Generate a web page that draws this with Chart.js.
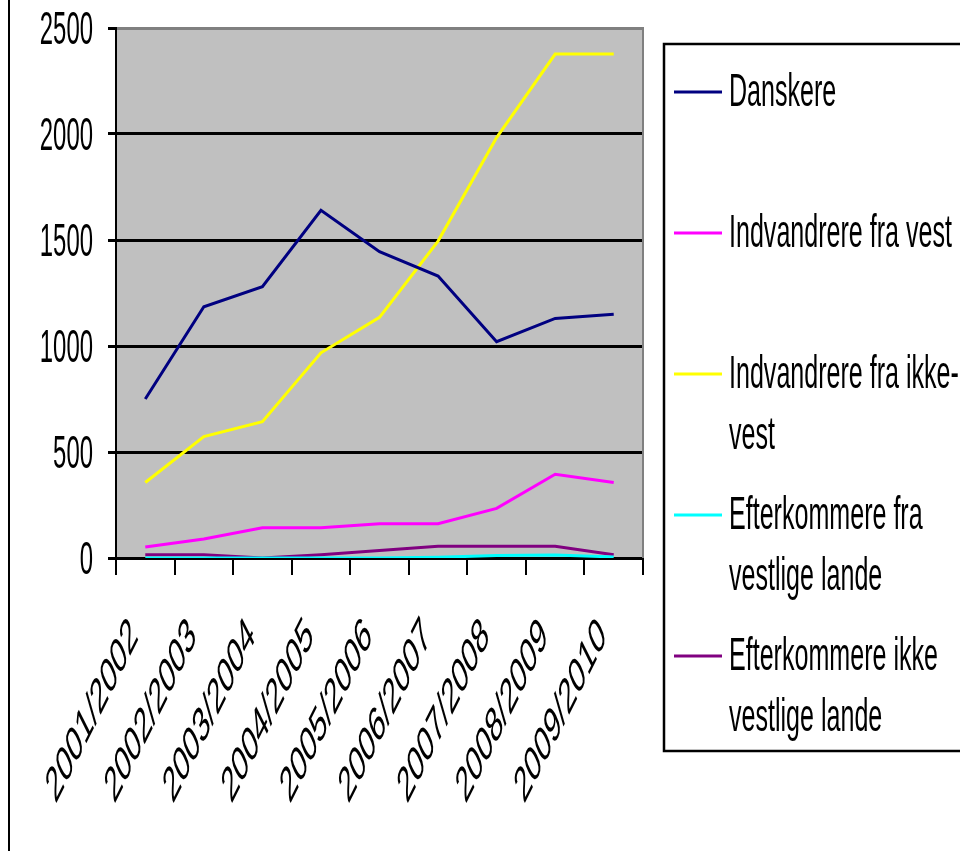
<!DOCTYPE html>
<html>
<head>
<meta charset="utf-8">
<script src="https://cdn.jsdelivr.net/npm/chart.js@4/dist/chart.umd.min.js"></script>
<style>
  html, body { margin: 0; padding: 0; background: #fff; }
  #wrap { width: 960px; height: 851px; }
</style>
</head>
<body>
<div id="wrap"><canvas id="chart" width="960" height="851"></canvas></div>
<script>
// data
var categories = ['2001/2002', '2002/2003', '2003/2004', '2004/2005', '2005/2006',
                  '2006/2007', '2007/2008', '2008/2009', '2009/2010'];
var seriesNames = ['Danskere', 'Indvandrere fra vest', 'Indvandrere fra ikke-vest',
                   'Efterkommere fra vestlige lande', 'Efterkommere ikke vestlige lande'];
var danskere      = [750, 1185, 1280, 1640, 1445, 1330, 1020, 1130, 1150];
var fraVest       = [52, 90, 143, 143, 162, 162, 234, 395, 356];
var fraIkkeVest   = [356, 573, 643, 968, 1135, 1495, 1983, 2377, 2377];
var efterVest     = [0, 0, 0, 0, 0, 3, 12, 14, 5];
var efterIkkeVest = [15, 15, 0, 15, 35, 55, 55, 55, 15];
var yTicks = [0, 500, 1000, 1500, 2000, 2500];

var colors = ['#000080', '#FF00FF', '#FFFF00', '#00FFFF', '#800080'];
var FONT = '46px "Liberation Sans", Arial, sans-serif';
var XFONT = '50px "Liberation Sans", Arial, sans-serif';

// text squeezed sideways like the stretched original
function squeezedText(ctx, text, x, y, sx, align) {
    ctx.save();
    ctx.translate(x, y);
    ctx.scale(sx, 1);
    ctx.textAlign = align || 'left';
    ctx.fillText(text, 0, 0);
    ctx.restore();
}

// break at spaces and after hyphens, like the original legend
function wrapLabel(ctx, text, maxWidth, sx) {
    var tokens = text.match(/[^ ]+?-|[^ \-]+/g);
    var lines = [];
    var cur = '';
    for (var i = 0; i < tokens.length; i++) {
        var tok = tokens[i];
        var sep = (cur === '' || cur.slice(-1) === '-') ? '' : ' ';
        var test = cur + sep + tok;
        if (cur !== '' && ctx.measureText(test).width * sx > maxWidth) {
            lines.push(cur);
            cur = tok;
        } else {
            cur = test;
        }
    }
    if (cur) lines.push(cur);
    return lines;
}

var excelLook = {
    id: 'excelLook',
    beforeDraw: function (chart) {
        var ctx = chart.ctx, a = chart.chartArea;
        ctx.save();
        ctx.fillStyle = '#C0C0C0';
        ctx.fillRect(a.left, a.top, a.right - a.left, a.bottom - a.top);
        ctx.restore();
    },
    afterDraw: function (chart) {
        var ctx = chart.ctx, a = chart.chartArea;
        var xs = chart.scales.x, ys = chart.scales.y;
        ctx.save();

        // right border of plot area
        ctx.strokeStyle = '#808080';
        ctx.lineWidth = 2;
        ctx.beginPath();
        ctx.moveTo(a.right, a.top - 1);
        ctx.lineTo(a.right, a.bottom);
        ctx.stroke();

        ctx.fillStyle = '#000';
        ctx.font = FONT;
        ctx.textBaseline = 'alphabetic';

        // y labels
        yTicks.forEach(function (v) {
            squeezedText(ctx, String(v), 93, ys.getPixelForValue(v) + 16, 0.52, 'right');
        });

        // x labels, rotated
        ctx.font = XFONT;
        categories.forEach(function (c, i) {
            var x = xs.getPixelForValue(i);
            ctx.save();
            ctx.translate(x - 11, 628);
            ctx.scale(0.5, 1);
            ctx.rotate(-Math.PI / 4);
            ctx.textAlign = 'right';
            ctx.textBaseline = 'middle';
            ctx.fillText(c, 0, 0);
            ctx.restore();
        });

        // legend
        ctx.font = FONT;
        ctx.strokeStyle = '#000';
        ctx.lineWidth = 2.5;
        ctx.strokeRect(664, 44, 400, 707);
        var rowY = 92;
        seriesNames.forEach(function (name, i) {
            ctx.strokeStyle = colors[i];
            ctx.lineWidth = 3;
            ctx.beginPath();
            ctx.moveTo(674, rowY);
            ctx.lineTo(722, rowY);
            ctx.stroke();
            var lines = wrapLabel(ctx, name, 240, 0.545);
            lines.forEach(function (ln, j) {
                squeezedText(ctx, ln, 729, rowY + 14 + j * 61, 0.545, 'left');
            });
            rowY += 141;
        });

        // outer frame, left edge
        ctx.strokeStyle = '#000';
        ctx.lineWidth = 2;
        ctx.beginPath();
        ctx.moveTo(9, 0);
        ctx.lineTo(9, 851);
        ctx.stroke();
        ctx.restore();
    }
};

var datasets = [danskere, fraVest, fraIkkeVest, efterVest, efterIkkeVest].map(function (d, i) {
    return {
        label: seriesNames[i],
        data: d,
        borderColor: colors[i],
        backgroundColor: colors[i],
        borderWidth: 3,
        pointRadius: 0,
        tension: 0,
        fill: false
    };
});

new Chart(document.getElementById('chart'), {
    type: 'line',
    data: { labels: categories, datasets: datasets },
    plugins: [excelLook],
    options: {
        responsive: false,
        devicePixelRatio: 1,
        animation: false,
        layout: { padding: { left: 0, top: 28, right: 317, bottom: 0 } },
        plugins: { legend: { display: false }, tooltip: { enabled: false } },
        scales: {
            x: {
                offset: true,
                grid: {
                    offset: true,
                    drawOnChartArea: false,
                    color: '#000',
                    lineWidth: 2,
                    tickLength: 17
                },
                border: { color: '#000', width: 3 },
                ticks: { display: false },
                afterFit: function (s) { s.height = 293; }
            },
            y: {
                min: 0,
                max: 2500,
                ticks: { stepSize: 500, display: false },
                grid: {
                    color: function (c) { return c.tick && c.tick.value === 2500 ? '#808080' : '#000'; },
                    tickColor: '#000',
                    lineWidth: 3,
                    tickLength: 8
                },
                border: { color: '#000', width: 2 },
                afterFit: function (s) { s.width = 116; }
            }
        }
    }
});
</script>
</body>
</html>
